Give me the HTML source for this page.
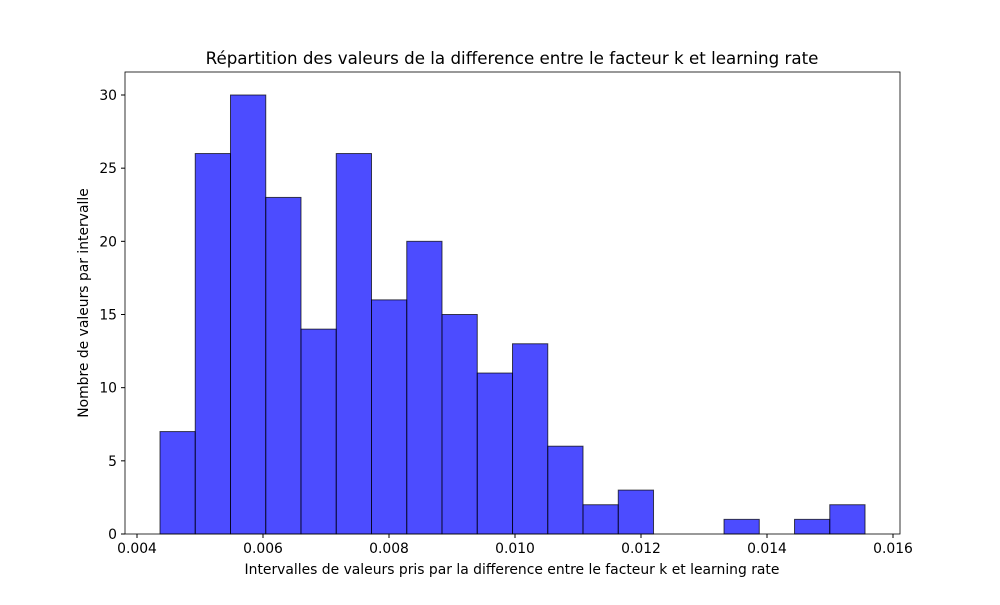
<!DOCTYPE html>
<html><head><meta charset="utf-8"><style>
body{margin:0;background:#fff;}
svg text{font-family:"DejaVu Sans","Liberation Sans",sans-serif;}
</style></head><body>
<svg id="chart" width="1000" height="600" xmlns="http://www.w3.org/2000/svg">
<rect width="1000" height="600" fill="#fff"/>
<text x="512" y="64" text-anchor="middle" font-size="16.7">Répartition des valeurs de la difference entre le facteur k et learning rate</text>
<g id="bars"></g>
<g id="axes"></g>
<text x="512" y="574" text-anchor="middle" font-size="13.9">Intervalles de valeurs pris par la difference entre le facteur k et learning rate</text>
<text transform="translate(88,303) rotate(-90)" text-anchor="middle" font-size="13.9">Nombre de valeurs par intervalle</text>
</svg>
<script>
const counts=[7,26,30,23,14,26,16,20,15,11,13,6,2,3,0,0,1,0,1,2];
const binMin=0.004365, binMax=0.015556;
const xTicks=[0.004,0.006,0.008,0.010,0.012,0.014,0.016];
const xTickLabels=["0.004","0.006","0.008","0.010","0.012","0.014","0.016"];
const yTicks=[0,5,10,15,20,25,30];
const L=125,R=900,T=72,B=534;
const xs=v=>137+(v-0.004)*63000;
const ys=v=>B-v*(439/30);
const NS="http://www.w3.org/2000/svg";
const bars=document.getElementById('bars'),axes=document.getElementById('axes');
const w=(binMax-binMin)/counts.length;
counts.forEach((c,i)=>{
  if(c<=0)return;
  const x0=xs(binMin+i*w),x1=xs(binMin+(i+1)*w);
  const r=document.createElementNS(NS,'rect');
  
  
  r.setAttribute('x',x0);r.setAttribute('y',ys(c));
  r.setAttribute('width',x1-x0);r.setAttribute('height',B-ys(c));
  r.setAttribute('fill','rgba(0,0,255,0.7)');r.setAttribute('stroke','rgba(0,0,0,0.7)');r.setAttribute('stroke-width','1');
  bars.appendChild(r);
});
const f=document.createElementNS(NS,'rect');


f.setAttribute('x',L);f.setAttribute('y',T);f.setAttribute('width',R-L);f.setAttribute('height',B-T);
f.setAttribute('fill','none');f.setAttribute('stroke','#000');f.setAttribute('stroke-width','0.8');
axes.appendChild(f);
xTicks.forEach((v,i)=>{
  const x=xs(v);
  const l=document.createElementNS(NS,'line');
  
  
  l.setAttribute('x1',x);l.setAttribute('x2',x);l.setAttribute('y1',B);l.setAttribute('y2',B+4);l.setAttribute('stroke','#000');
  axes.appendChild(l);
  const t=document.createElementNS(NS,'text');
  
  
  t.setAttribute('x',x);t.setAttribute('y',B+19);t.setAttribute('text-anchor','middle');t.setAttribute('font-size','13.9');
  t.textContent=xTickLabels[i];axes.appendChild(t);
});
yTicks.forEach(v=>{
  const y=ys(v);
  const l=document.createElementNS(NS,'line');
  
  
  l.setAttribute('x1',L-4);l.setAttribute('x2',L);l.setAttribute('y1',y);l.setAttribute('y2',y);l.setAttribute('stroke','#000');
  axes.appendChild(l);
  const t=document.createElementNS(NS,'text');
  
  
  t.setAttribute('x',L-8);t.setAttribute('y',y+5);t.setAttribute('text-anchor','end');t.setAttribute('font-size','13.9');
  t.textContent=v;axes.appendChild(t);
});
</script>
</body></html>
